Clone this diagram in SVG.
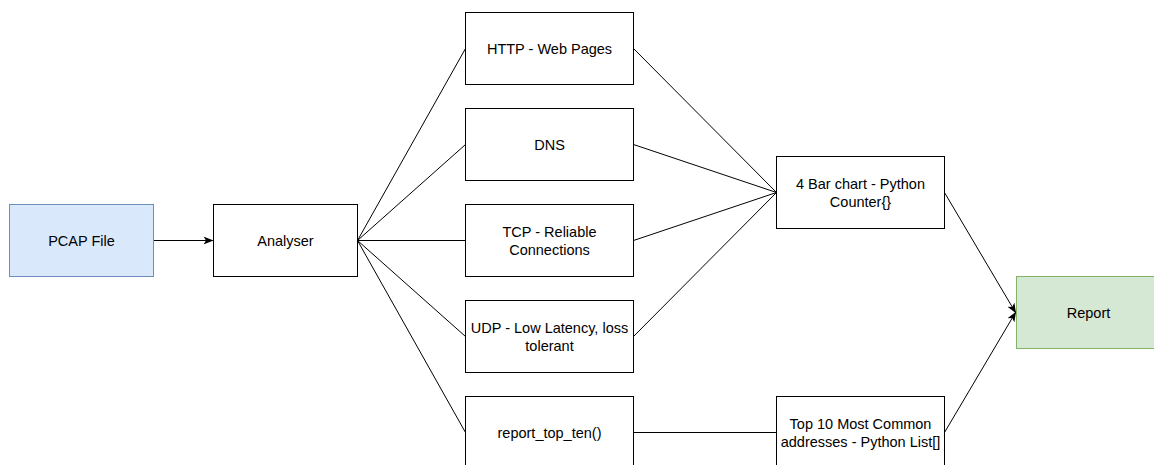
<svg xmlns="http://www.w3.org/2000/svg" width="1154" height="465" viewBox="0 0 1154 465">
<style>
.n{fill:#fff;stroke:#000;stroke-width:1}
.blue{fill:#dae8fc;stroke:#6c8ebf}
.green{fill:#d5e8d4;stroke:#82b366}
.t{font-family:"Liberation Sans",Arial,sans-serif;font-size:14.5px;fill:#000;text-anchor:middle;dominant-baseline:central}
.c{stroke:#000;stroke-width:1;fill:none}
</style>
<defs>
<marker id="arr" viewBox="0 0 10 10" refX="9" refY="5" markerWidth="10" markerHeight="10" markerUnits="userSpaceOnUse" orient="auto">
<path d="M0,1 L10,5 L0,9 L2.5,5 Z" fill="#000"/>
</marker>
</defs>
<rect width="1154" height="465" fill="#fff"/>
<g id="connectors">
<path class="c" d="M153.5,240.5 L212.5,240.5" marker-end="url(#arr)"/>
<path class="c" d="M357.5,240.5 L465.5,48.5"/>
<path class="c" d="M357.5,240.5 L465.5,144.5"/>
<path class="c" d="M357.5,240.5 L465.5,240.5"/>
<path class="c" d="M357.5,240.5 L465.5,336.5"/>
<path class="c" d="M357.5,240.5 L465.5,432.5"/>
<path class="c" d="M633.5,48.5 L776.5,192.5"/>
<path class="c" d="M633.5,144.5 L776.5,192.5"/>
<path class="c" d="M633.5,240.5 L776.5,192.5"/>
<path class="c" d="M633.5,336.5 L776.5,192.5"/>
<path class="c" d="M633.5,432.5 L776.5,432.5"/>
<path class="c" d="M944.5,192.5 L1015.5,312.5" marker-end="url(#arr)"/>
<path class="c" d="M944.5,432.5 L1015.5,312.5" marker-end="url(#arr)"/>
</g>
<g id="pcap"><rect class="n blue" x="9.5" y="204.5" width="144" height="72"/><text class="t" x="81.5" y="240.5">PCAP File</text></g>
<g id="analyser"><rect class="n" x="213.5" y="204.5" width="144" height="72"/><text class="t" x="285.5" y="240.5">Analyser</text></g>
<g id="http"><rect class="n" x="465.5" y="12.5" width="168" height="72"/><text class="t" x="549.5" y="48.5">HTTP - Web Pages</text></g>
<g id="dns"><rect class="n" x="465.5" y="108.5" width="168" height="72"/><text class="t" x="549.5" y="144.5">DNS</text></g>
<g id="tcp"><rect class="n" x="465.5" y="204.5" width="168" height="72"/><text class="t" x="549.5" y="231.5">TCP - Reliable</text><text class="t" x="549.5" y="249.5">Connections</text></g>
<g id="udp"><rect class="n" x="465.5" y="300.5" width="168" height="72"/><text class="t" x="549.5" y="327.5">UDP - Low Latency, loss</text><text class="t" x="549.5" y="345.5">tolerant</text></g>
<g id="topten"><rect class="n" x="465.5" y="396.5" width="168" height="72"/><text class="t" x="549.5" y="432.5">report_top_ten()</text></g>
<g id="barchart"><rect class="n" x="776.5" y="156.5" width="168" height="72"/><text class="t" x="860.5" y="183.5">4 Bar chart - Python</text><text class="t" x="860.5" y="201.5">Counter{}</text></g>
<g id="toplist"><rect class="n" x="776.5" y="396.5" width="168" height="72"/><text class="t" x="860.5" y="423.5">Top 10 Most Common</text><text class="t" x="860.5" y="441.5">addresses - Python List[]</text></g>
<g id="report"><rect class="n green" x="1016.5" y="276.5" width="144" height="72"/><text class="t" x="1088.5" y="312.5">Report</text></g>
</svg>
